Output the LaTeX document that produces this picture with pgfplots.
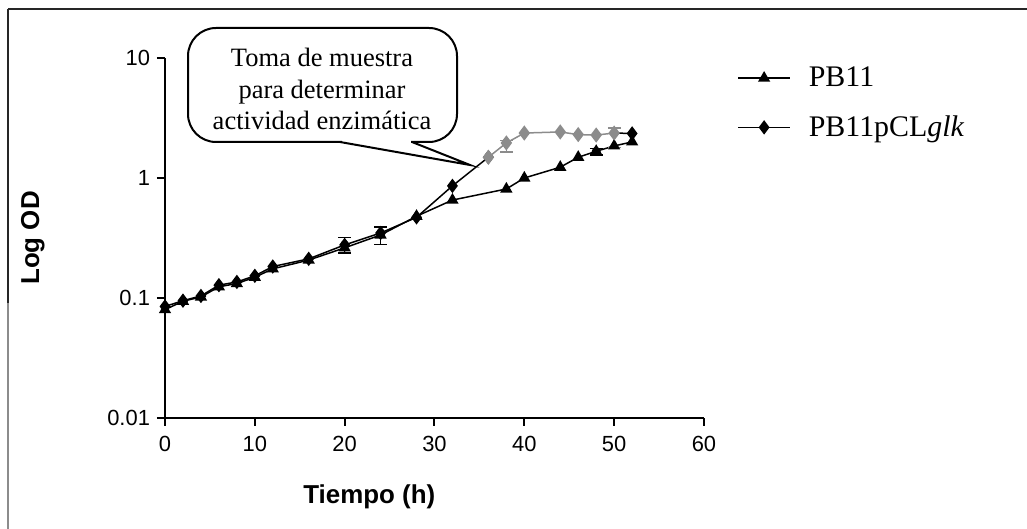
\documentclass[border=0pt]{standalone}
\usepackage{fontspec}
\setmainfont{Liberation Serif}
\setsansfont{Liberation Sans}
\usepackage{pgfplots}
\pgfplotsset{compat=1.18}
\definecolor{gdia}{RGB}{140,140,140}
\begin{document}
\begin{tikzpicture}
\path[use as bounding box] (-82.5bp,-55.5bp) rectangle (431bp,209bp);
% scanned frame
\draw[line width=1bp, black!85] (-78.5bp,204.5bp) -- (431bp,204.5bp);
\draw[line width=1bp, black!85] (-78.5bp,204.5bp) -- (-78.5bp,57.5bp);
\draw[line width=0.6bp, black!45] (-78.5bp,57.5bp) -- (-78.5bp,-55.5bp);
\begin{axis}[
  at={(0,0)}, anchor=south west,
  scale only axis, width=269.5bp, height=180bp,
  xmin=0, xmax=60, ymode=log, ymin=0.01, ymax=10,
  axis lines=left, axis line style={line width=1bp, -},
  xtick={0,10,20,30,40,50,60}, xticklabels={0,10,20,30,40,50,60},
  ytick={0.01,0.1,1,10}, yticklabels={0.01,0.1,1,10},
  yminorticks=false, xminorticks=false,
  tick style={line width=1bp, black}, tick align=outside, major tick length=4bp,
  ticklabel style={font=\sffamily\fontsize{11}{12}\selectfont},
  xticklabel style={yshift=-1.5bp},
  xlabel={Tiempo (h)}, ylabel={Log OD},
  label style={font=\sffamily\bfseries\fontsize{13}{14}\selectfont},
  xlabel style={at={(axis description cs:0.379,0)}, anchor=center, yshift=-39.5bp},
  ylabel style={at={(axis description cs:-0.245,0.5)}, anchor=center},
  clip=false,
  legend image code/.code={\draw[mark repeat=2,mark phase=2,#1] plot coordinates {(0bp,0bp) (13bp,0bp) (26bp,0bp)};},
  legend style={draw=none, fill=none, at={(axis description cs:1.0612,0.875)}, anchor=west,
    inner sep=0pt, row sep=11bp, column sep=8bp,
    font=\fontsize{15}{17}\selectfont, nodes={inner sep=1bp, anchor=west}},
  legend cell align=left,
]
\addplot[black, line width=0.75bp, mark=triangle*, mark size=2.8bp, mark options={solid}] coordinates {
(0,0.080) (2,0.094) (4,0.102) (6,0.124) (8,0.132) (10,0.149) (12,0.175) (16,0.207)
(20,0.262) (24,0.335) (28,0.48) (32,0.655) (38,0.81) (40,1.0) (44,1.23) (46,1.49)
(48,1.67) (50,1.85) (52,2.0)};
\addlegendentry{PB11}
\addplot[black, line width=0.75bp, mark=diamond*, mark size=3bp, mark options={solid}] coordinates {
(0,0.085) (2,0.095) (4,0.104) (6,0.128) (8,0.136) (10,0.153) (12,0.183) (16,0.212)
(20,0.277) (24,0.348) (28,0.47) (32,0.86) (36,1.49)};
\addlegendentry{PB11pCL\textit{glk}}
\addplot[forget plot, gdia, line width=0.75bp, mark=diamond*, mark size=3.2bp, mark options={solid, fill=gdia, draw=gdia}] coordinates {
(36,1.49) (38,1.96) (40,2.37) (44,2.42) (46,2.30) (48,2.28) (50,2.37)};
\addplot[forget plot, black, line width=0.75bp, mark=diamond*, mark size=3bp, mark indices={2}] coordinates {
(50,2.37) (52,2.35)};
% error bars
\addplot[forget plot, only marks, mark=none, black,
  error bars/.cd, y dir=both, y explicit,
  error bar style={line width=0.75bp, black},
  error mark options={rotate=90, mark size=3.2bp, line width=0.75bp, black}] coordinates {
(20,0.277) += (0,0.043) -= (0,0.04)
(24,0.348) += (0,0.042) -= (0,0.068)
(48,1.67) += (0,0.1) -= (0,0.12)};
\addplot[forget plot, only marks, mark=none, gdia,
  error bars/.cd, y dir=both, y explicit,
  error bar style={line width=0.75bp, gdia},
  error mark options={rotate=90, mark size=3.2bp, line width=0.75bp, gdia}] coordinates {
(38,1.96) += (0,0.1) -= (0,0.32)
(50,2.37) += (0,0.23) -= (0,0.57)};
\end{axis}
% callout
\draw[line width=1bp, rounded corners=14bp, fill=white] (11.5bp,138bp) rectangle (146bp,195bp);
\fill[white] (88.5bp,136.5bp) rectangle (123bp,139.5bp);
\draw[line width=1bp] (87.5bp,138bp) -- (152.5bp,126.5bp) -- (123.5bp,138bp);
\node[align=center, font=\fontsize{13.3}{14}\selectfont] at (78.5bp,164.5bp)
  {Toma de muestra\\[2bp]para determinar\\[2bp]actividad enzimática};
\end{tikzpicture}
\end{document}
